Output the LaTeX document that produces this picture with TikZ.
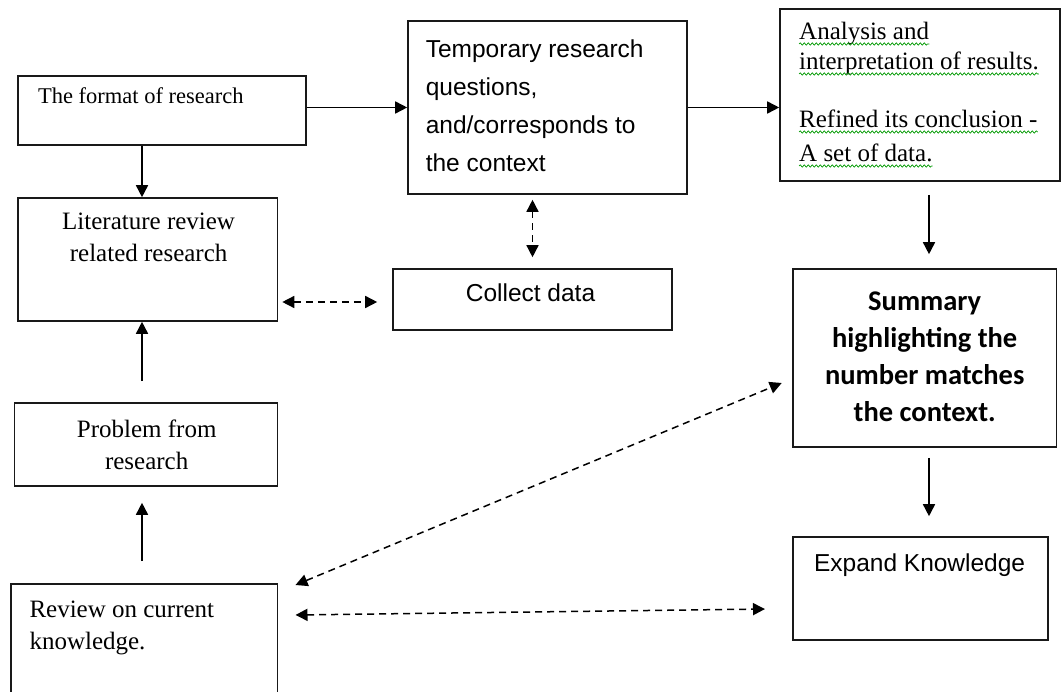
\documentclass[tikz,border=0pt]{standalone}
\usepackage{fontspec}
\setmainfont{Liberation Serif}
\newfontfamily\arialf{Liberation Sans}
\newfontfamily\calibf{Carlito}
\usetikzlibrary{arrows.meta,decorations.pathmorphing}
\begin{document}
\begin{tikzpicture}[x=1pt,y=-1pt,
  box/.style={draw=black!90, line width=1.6pt, inner sep=0pt, rectangle},
  arr/.style={line width=1.6pt, -{Triangle[length=12pt,width=12pt]}},
  darr/.style={line width=1.5pt, dash pattern=on 7pt off 5pt,
    {Triangle[length=12pt,width=12pt]}-{Triangle[length=12pt,width=12pt]}},
  serif/.style={font=\fontsize{25}{32}\selectfont, inner sep=0pt},
  sans/.style={font=\arialf\fontsize{24.5}{38}\selectfont, inner sep=0pt},
  bsans/.style={font=\calibf\bfseries\fontsize{28.5}{37}\selectfont, inner sep=0pt},
  sq/.style={draw=green!60!black, line width=0.7pt, decorate,
    decoration={snake, amplitude=1.2pt, segment length=4pt}}
]
\useasboundingbox (0,0) rectangle (1062,692);
\clip (0,0) rectangle (1062,692);

% boxes
\node[box, minimum width=288pt, minimum height=69pt]   (format)   at (162,110.5) {};
\node[box, minimum width=279pt, minimum height=173pt]  (temp)     at (547.5,107.5) {};
\node[box, minimum width=280pt, minimum height=172pt]  (analysis) at (920,95) {};
\node[box, minimum width=259.5pt, minimum height=123pt](lit)      at (147.75,259.5) {};
\node[box, minimum width=279pt, minimum height=61pt]   (collect)  at (532.5,299.5) {};
\node[box, minimum width=263.5pt, minimum height=178pt](summary)  at (924.75,358) {};
\node[box, minimum width=263pt, minimum height=83pt]   (problem)  at (146,444.5) {};
\node[box, minimum width=255pt, minimum height=103pt]  (expand)   at (920.5,588.5) {};
\node[box, minimum width=266.5pt, minimum height=116pt](review)   at (144.25,642) {};

% texts
\node[serif, font=\fontsize{22.5}{30}\selectfont, anchor=base west] (tformat) at (37.9,103.5) {The format of research};
\node[sans, anchor=north west, align=left] (ttemp) at (425.6,39.3)
  {Temporary research\\questions,\\and/corresponds to\\the context};
\node[serif, anchor=base west] (a1) at (799,40) {Analysis and};
\node[serif, anchor=base west] (a2) at (799,70) {interpretation of results.};
\node[serif, anchor=base west] (a3) at (799,128) {Refined its conclusion -};
\node[serif, anchor=base west] (a4) at (799,162) {A set of data.};
\node[serif, anchor=north, align=center] (tlit) at (148.6,213)
  {Literature review\\related research};
\node[sans, anchor=base] (tcollect) at (530.5,301.7) {Collect data};
\node[bsans, anchor=north, align=center] (tsummary) at (924.7,292)
  {Summary\\highlighting the\\number matches\\the context.};
\node[serif, anchor=north, align=center] (tproblem) at (146.7,419.7)
  {Problem from\\research};
\node[sans, anchor=base] (texpand) at (919.6,571.7) {Expand Knowledge};
\node[serif, anchor=north west, align=left] (treview) at (29.3,600.3)
  {Review on current\\knowledge.};

% spell-check squiggles
\foreach \n in {a1,a2,a3,a4}
  \draw[sq] ([yshift=-4pt]\n.base west) -- ([yshift=-4pt]\n.base east);

% helper coordinates
\coordinate (lx) at (142,0);
\coordinate (rx) at (929,0);
\coordinate (hy) at (0,302);
\coordinate (dA) at (295.5,585);
\coordinate (dB) at (781.7,383);
\coordinate (hA) at (295.5,615);
\coordinate (hB) at (765,609);

% solid arrows
\draw[arr] (format.east |- temp.west) -- (temp.west);
\draw[arr] (format.south -| lx) -- (lit.north -| lx);
\draw[arr] (temp.east) -- (analysis.west |- temp.east);
\draw[arr, shorten <=13pt, shorten >=14pt] (analysis.south -| rx) -- (summary.north -| rx);
\draw[arr, shorten <=10pt, shorten >=20pt] (summary.south -| rx) -- (expand.north -| rx);
\draw[arr, shorten <=21pt] (problem.north -| lx) -- (lit.south -| lx);
\draw[arr, shorten <=22pt, shorten >=16pt] (review.north -| lx) -- (problem.south -| lx);

% dashed arrows
\draw[darr, shorten <=5pt, shorten >=11pt] (temp.south -| collect.north) -- (collect.north);
\draw[darr, shorten <=4pt, shorten >=15pt] (lit.east |- hy) -- (collect.west |- hy);
\draw[darr] (dA) -- (dB);
\draw[darr] (hA) -- (hB);
\end{tikzpicture}
\end{document}
